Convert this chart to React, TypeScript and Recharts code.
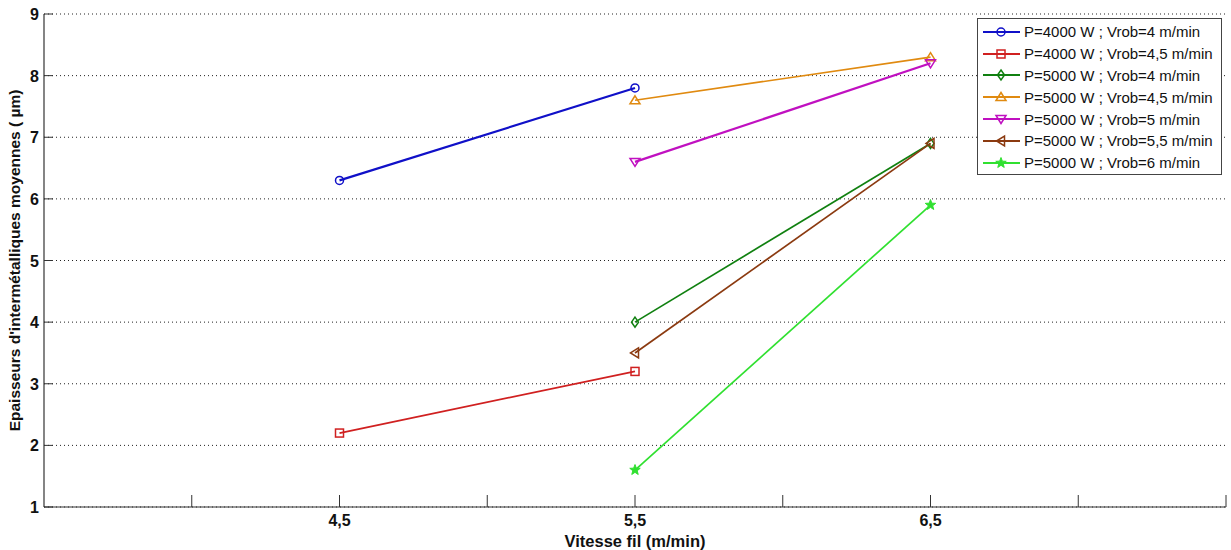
import React from "react";
import { CartesianGrid, Legend, Line, LineChart, XAxis, YAxis } from "recharts";

// wire speed (m/min) on x, mean intermetallic thickness (µm) on y
const xLow = [4.5, 5.5];
const xHigh = [5.5, 6.5];

const p4000v4 = [6.3, 7.8];
const p4000v45 = [2.2, 3.2];
const p5000v4 = [4.0, 6.9];
const p5000v45 = [7.6, 8.3];
const p5000v5 = [6.6, 8.2];
const p5000v55 = [3.5, 6.9];
const p5000v6 = [1.6, 5.9];

const xTicks = [3.5, 4, 4.5, 5, 5.5, 6, 6.5, 7, 7.5];
const xLabels = [4.5, 5.5, 6.5];
const yTicks = [1, 2, 3, 4, 5, 6, 7, 8, 9];

type Marker = "circle" | "square" | "diamond" | "up" | "down" | "left" | "star";

const series: { name: string; xs: number[]; ys: number[]; color: string; marker: Marker; width: number }[] = [
  { name: "P=4000 W ; Vrob=4 m/min", xs: xLow, ys: p4000v4, color: "#1010c8", marker: "circle", width: 2.2 },
  { name: "P=4000 W ; Vrob=4,5 m/min", xs: xLow, ys: p4000v45, color: "#d02020", marker: "square", width: 1.7 },
  { name: "P=5000 W ; Vrob=4 m/min", xs: xHigh, ys: p5000v4, color: "#108010", marker: "diamond", width: 1.7 },
  { name: "P=5000 W ; Vrob=4,5 m/min", xs: xHigh, ys: p5000v45, color: "#e08a10", marker: "up", width: 1.7 },
  { name: "P=5000 W ; Vrob=5 m/min", xs: xHigh, ys: p5000v5, color: "#c010c0", marker: "down", width: 2.2 },
  { name: "P=5000 W ; Vrob=5,5 m/min", xs: xHigh, ys: p5000v55, color: "#8b3a10", marker: "left", width: 1.7 },
  { name: "P=5000 W ; Vrob=6 m/min", xs: xHigh, ys: p5000v6, color: "#30e030", marker: "star", width: 1.7 }
];

const FONT = "'Liberation Sans', Arial, sans-serif";

function starPath(cx: number, cy: number, r: number) {
  const pts: string[] = [];
  for (let i = 0; i < 10; i++) {
    const rr = i % 2 === 0 ? r : r * 0.42;
    const a = -Math.PI / 2 + (i * Math.PI) / 5;
    pts.push(`${cx + rr * Math.cos(a)},${cy + rr * Math.sin(a)}`);
  }
  return `M${pts.join("L")}Z`;
}

function MarkerShape({ cx, cy, kind, color }: { cx: number; cy: number; kind: Marker; color: string }) {
  const s = 4.5;
  const common = { fill: "none", stroke: color, strokeWidth: 1.5 };
  switch (kind) {
    case "circle":
      return <circle cx={cx} cy={cy} r={4} {...common} />;
    case "square":
      return <rect x={cx - 4} y={cy - 4} width={8} height={8} {...common} />;
    case "diamond":
      return <path d={`M${cx},${cy - s - 0.5}L${cx + 3.5},${cy}L${cx},${cy + s + 0.5}L${cx - 3.5},${cy}Z`} {...common} />;
    case "up":
      return <path d={`M${cx},${cy - s}L${cx + s + 0.5},${cy + s - 1}L${cx - s - 0.5},${cy + s - 1}Z`} {...common} />;
    case "down":
      return <path d={`M${cx},${cy + s}L${cx + s + 0.5},${cy - s + 1}L${cx - s - 0.5},${cy - s + 1}Z`} {...common} />;
    case "left":
      return <path d={`M${cx - s},${cy}L${cx + s - 1},${cy - s - 0.5}L${cx + s - 1},${cy + s + 0.5}Z`} {...common} />;
    default:
      return <path d={starPath(cx, cy, 5.5)} fill={color} stroke={color} strokeWidth={1} />;
  }
}

function XTick(props: any) {
  const { x, y, payload } = props;
  const v = payload.value as number;
  const showLabel = xLabels.includes(v);
  const isEdge = v === 3.5;
  return (
    <g>
      {!isEdge && <line x1={x} x2={x} y1={y} y2={y - 12} stroke="#333" strokeWidth={1} />}
      {showLabel && (
        <text x={x} y={y + 19} textAnchor="middle" fontFamily={FONT} fontWeight="bold" fontSize={16} fill="#111">
          {String(v).replace(".", ",")}
        </text>
      )}
    </g>
  );
}

function YTick(props: any) {
  const { x, y, payload } = props;
  return (
    <g>
      <line x1={x} x2={x + 9} y1={y} y2={y} stroke="#333" strokeWidth={1} />
      <text x={x - 5} y={y + 6} textAnchor="end" fontFamily={FONT} fontWeight="bold" fontSize={16} fill="#111">
        {payload.value}
      </text>
    </g>
  );
}

function LegendBox() {
  return (
    <div
      style={{
        width: 245,
        height: 157,
        border: "1px solid #444",
        background: "#fff",
        boxSizing: "border-box",
        paddingTop: 2
      }}
    >
      {series.map((s) => (
        <div key={s.name} style={{ display: "flex", alignItems: "center", height: 21.8 }}>
          <svg width={44} height={16} style={{ flex: "none" }}>
            <line x1={5} x2={42} y1={8} y2={8} stroke={s.color} strokeWidth={1.8} />
            <MarkerShape cx={23} cy={8} kind={s.marker} color={s.color} />
          </svg>
          <span style={{ fontFamily: FONT, fontSize: 15, color: "#111", marginLeft: 2, whiteSpace: "nowrap" }}>
            {s.name}
          </span>
        </div>
      ))}
    </div>
  );
}

export default function App() {
  return (
    <div style={{ position: "absolute", left: 0, top: 0, width: 1231, height: 550, background: "#fff" }}>
      <LineChart width={1231} height={550} margin={{ top: 14, right: 5, left: 0, bottom: 0 }}>
        <CartesianGrid vertical={false} stroke="#222" strokeDasharray="1 3" strokeWidth={1} />
        <XAxis
          type="number"
          dataKey="x"
          domain={[3.5, 7.5]}
          ticks={xTicks}
          interval={0}
          allowDuplicatedCategory={false}
          tick={<XTick />}
          tickLine={false}
          tickSize={0}
          tickMargin={0}
          axisLine={{ stroke: "#333", strokeWidth: 1.2 }}
          height={43}
          label={{
            value: "Vitesse fil (m/min)",
            position: "insideBottom",
            offset: 3,
            style: { fontFamily: FONT, fontWeight: "bold", fontSize: 16.5, fill: "#111" }
          }}
        />
        <YAxis
          type="number"
          domain={[1, 9]}
          ticks={yTicks}
          interval={0}
          tick={<YTick />}
          tickLine={false}
          tickSize={0}
          tickMargin={0}
          axisLine={{ stroke: "#333", strokeWidth: 1.2 }}
          width={44}
          label={{
            value: "Epaisseurs d'intermétalliques moyennes ( \u00b5m)",
            angle: -90,
            position: "insideLeft",
            offset: 14,
            style: { textAnchor: "middle", fontFamily: FONT, fontWeight: "bold", fontSize: 15.5, fill: "#111" }
          }}
        />
        <Legend
          layout="vertical"
          align="center"
          verticalAlign="middle"
          content={() => <LegendBox />}
          wrapperStyle={{ position: "absolute", left: 977, top: 18, width: 245, height: 157 }}
        />
        {series.map((s) => (
          <Line
            key={s.name}
            name={s.name}
            data={s.xs.map((x, i) => ({ x, y: s.ys[i] }))}
            dataKey="y"
            type="linear"
            stroke={s.color}
            strokeWidth={s.width}
            isAnimationActive={false}
            dot={(p: any) => <MarkerShape key={`${s.name}-${p.index}`} cx={p.cx} cy={p.cy} kind={s.marker} color={s.color} />}
            activeDot={false}
          />
        ))}
      </LineChart>
    </div>
  );
}
